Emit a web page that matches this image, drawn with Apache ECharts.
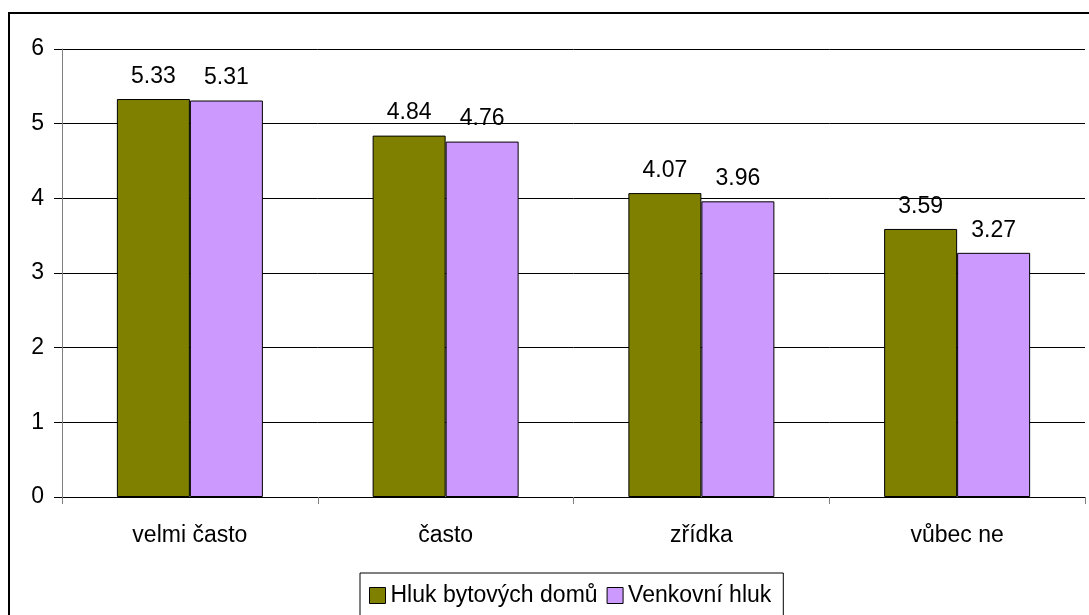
<!DOCTYPE html>
<html>
<head>
<meta charset="utf-8">
<script src="https://cdn.jsdelivr.net/npm/echarts@6/dist/echarts.min.js"></script>
<style>html,body{margin:0;padding:0;background:#fff;}#c{width:1089px;height:615px;}</style>
</head>
<body>
<div id="c"></div>
<script>
const categories = ['velmi často', 'často', 'zřídka', 'vůbec ne'];
const seriesNames = ['Hluk bytových domů', 'Venkovní hluk'];
const hlukBytovychDomu = [5.33, 4.84, 4.07, 3.59];
const venkovniHluk = [5.31, 4.76, 3.96, 3.27];
const yTicks = [0, 1, 2, 3, 4, 5, 6];

const font = 'Liberation Sans, Arial, sans-serif';
const fs = 23;
const chart = echarts.init(document.getElementById('c'));
const labelCfg = {
  show: true, position: 'top', distance: 11,
  fontSize: fs, color: '#000', fontFamily: font,
  formatter: p => p.value.toFixed(2)
};
chart.setOption({
  animation: false,
  backgroundColor: '#fff',
  textStyle: { fontFamily: font },
  graphic: [{
    type: 'rect', z: 100, silent: true,
    shape: { x: 9, y: 13, width: 1200, height: 700 },
    style: { fill: 'none', stroke: '#000', lineWidth: 2 }
  }],
  grid: { left: 62, right: 4, top: 49, bottom: 118 },
  legend: {
    data: seriesNames,
    left: 360, top: 573,
    orient: 'horizontal',
    itemWidth: 16, itemHeight: 16, itemGap: 9,
    icon: 'rect',
    padding: [11, 12, 30, 9],
    borderColor: '#000', borderWidth: 1,
    backgroundColor: '#fff',
    textStyle: { fontSize: fs, color: '#000', fontFamily: font },
    itemStyle: { borderColor: '#000', borderWidth: 1 }
  },
  xAxis: {
    type: 'category',
    data: categories,
    boundaryGap: true,
    axisLine: { lineStyle: { color: '#000', width: 1 } },
    axisTick: { show: true, length: 7, lineStyle: { color: '#808080' } },
    axisLabel: { fontSize: fs, color: '#000', margin: 27, fontFamily: font }
  },
  yAxis: {
    type: 'value',
    min: yTicks[0], max: yTicks[yTicks.length - 1], interval: 1,
    axisLine: { show: true, lineStyle: { color: '#808080', width: 1 } },
    axisTick: { show: true, length: 8, lineStyle: { color: '#000' } },
    axisLabel: { fontSize: fs, color: '#000', margin: 18, fontFamily: font },
    splitLine: { show: true, lineStyle: { color: '#000', width: 1 } }
  },
  series: [
    {
      name: seriesNames[0], type: 'bar', data: hlukBytovychDomu,
      barWidth: 73, barGap: '0%',
      itemStyle: { color: '#808000', borderColor: '#000', borderWidth: 1 },
      label: labelCfg
    },
    {
      name: seriesNames[1], type: 'bar', data: venkovniHluk,
      barWidth: 73, barGap: '0%',
      itemStyle: { color: '#CC99FF', borderColor: '#000', borderWidth: 1 },
      label: labelCfg
    }
  ]
});
</script>
</body>
</html>
